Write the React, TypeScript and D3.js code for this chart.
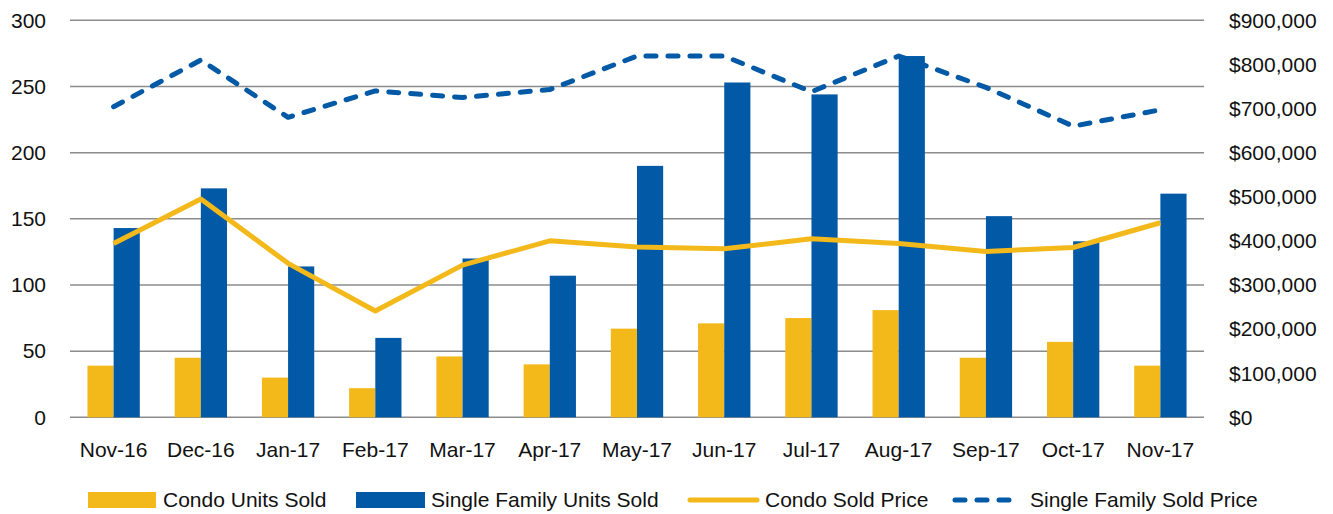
import React from 'react';
import * as d3 from 'd3';

const months = ['Nov-16', 'Dec-16', 'Jan-17', 'Feb-17', 'Mar-17', 'Apr-17', 'May-17', 'Jun-17', 'Jul-17', 'Aug-17', 'Sep-17', 'Oct-17', 'Nov-17'];
const condoUnits = [39, 45, 30, 22, 46, 40, 67, 71, 75, 81, 45, 57, 39];
const sfUnits = [143, 173, 114, 60, 120, 107, 190, 253, 244, 273, 152, 133, 169];
const condoPrice = [394000, 495000, 349000, 241000, 345000, 400000, 386000, 382000, 405000, 394000, 376000, 385000, 441000];
const sfPrice = [704000, 810000, 680000, 740000, 725000, 743000, 819000, 819000, 738000, 819000, 748000, 660000, 697000];
const leftTicks = [0, 50, 100, 150, 200, 250, 300];
const rightTicks = [0, 100000, 200000, 300000, 400000, 500000, 600000, 700000, 800000, 900000];

const GOLD = '#F3B81A';
const BLUE = '#0259A5';
const FONT = '"Liberation Sans", Arial, sans-serif';

export default function App() {
  const width = 1333;
  const height = 514;
  const left = 70;
  const right = 1204;
  const top = 20.3;
  const bottom = 417.3;

  const x = d3.scaleBand<string>().domain(months).range([left, right]);
  const bw = x.bandwidth();
  const inner = d3.scaleBand<string>().domain(['condo', 'sf']).range([bw * 0.2, bw * 0.8]);
  const yL = d3.scaleLinear().domain([0, 300]).range([bottom, top]);
  const yR = d3.scaleLinear().domain([0, 900000]).range([bottom, top]);
  const fmt = d3.format('$,');

  const line = (vals: number[]) =>
    d3.line<number>()
      .x((_, i) => (x(months[i]) as number) + bw / 2)
      .y((d) => yR(d))(vals) as string;

  return (
    <div style={{ position: 'absolute', left: 0, top: 0 }}>
      <svg width={width} height={height} style={{ display: 'block', background: '#fff' }} fontFamily={FONT}>
        {leftTicks.map((t) => (
          <line key={t} x1={left} x2={right} y1={yL(t)} y2={yL(t)} stroke="#8c8c8c" strokeWidth={1.5} />
        ))}
        {leftTicks.map((t) => (
          <text key={'l' + t} x={46} y={yL(t)} dy="0.35em" textAnchor="end" fontSize={21} fill="#111">{t}</text>
        ))}
        {rightTicks.map((t) => (
          <text key={'r' + t} x={1229} y={yR(t)} dy="0.35em" textAnchor="start" fontSize={21} fill="#111">{fmt(t)}</text>
        ))}
        {months.map((m, i) => (
          <g key={m}>
            <rect x={(x(m) as number) + (inner('condo') as number)} width={inner.bandwidth()} y={yL(condoUnits[i])} height={bottom - yL(condoUnits[i])} fill={GOLD} />
            <rect x={(x(m) as number) + (inner('sf') as number)} width={inner.bandwidth()} y={yL(sfUnits[i])} height={bottom - yL(sfUnits[i])} fill={BLUE} />
            <text x={(x(m) as number) + bw / 2} y={457} textAnchor="middle" fontSize={21} fill="#111">{m}</text>
          </g>
        ))}
        <path d={line(condoPrice)} fill="none" stroke={GOLD} strokeWidth={5} strokeLinejoin="round" />
        <path d={line(sfPrice)} fill="none" stroke={BLUE} strokeWidth={5} strokeDasharray="10 12" strokeLinecap="round" strokeLinejoin="round" />

        <g fontSize={21} fill="#111">
          <rect x={88} y={492} width={68} height={16} fill={GOLD} />
          <text x={163} y={500} dy="0.35em">Condo Units Sold</text>
          <rect x={356} y={492} width={69} height={16} fill={BLUE} />
          <text x={431} y={500} dy="0.35em">Single Family Units Sold</text>
          <line x1={690} x2={757} y1={500} y2={500} stroke={GOLD} strokeWidth={5} strokeLinecap="round" />
          <text x={765} y={500} dy="0.35em">Condo Sold Price</text>
          <line x1={955} x2={1018} y1={500} y2={500} stroke={BLUE} strokeWidth={5} strokeDasharray="10 12" strokeLinecap="round" />
          <text x={1030} y={500} dy="0.35em">Single Family Sold Price</text>
        </g>
      </svg>
    </div>
  );
}
